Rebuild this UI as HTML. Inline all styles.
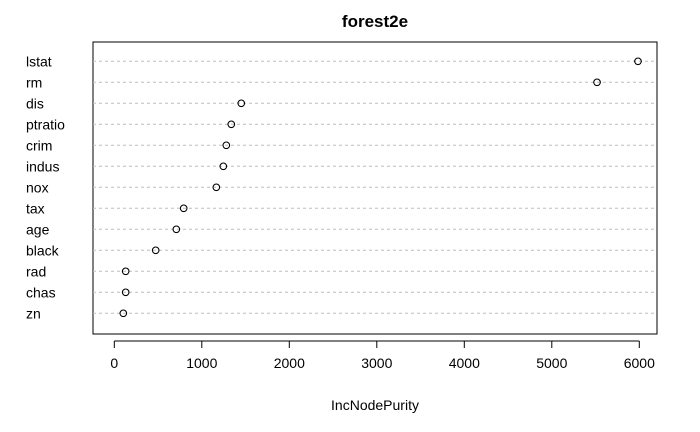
<!DOCTYPE html>
<html><head><meta charset="utf-8"><style>body{margin:0;background:#fff}svg{display:block;font-family:"Liberation Sans",Arial,sans-serif}</style></head>
<body>
<svg id="chart" width="700" height="432" viewBox="0 0 700 432">
<rect width="700" height="432" fill="#fff"/>
<text x="375" y="27" font-size="17" font-weight="bold" text-anchor="middle">forest2e</text>
<rect x="93" y="42" width="564" height="292" fill="none" stroke="#000" stroke-width="1"/>
<g id="rows"></g>
<g id="xaxis"></g>
<text x="375" y="410" font-size="14" text-anchor="middle">IncNodePurity</text>
</svg>
<script>
const categories = ["lstat","rm","dis","ptratio","crim","indus","nox","tax","age","black","rad","chas","zn"];
const values = [5985,5517,1451,1337,1280,1246,1166,793,709,473,130,130,103];
const ticks = [0,1000,2000,3000,4000,5000,6000];
const ns="http://www.w3.org/2000/svg";
const xs=v=>114.3+v*0.0875;
const ys=i=>61.3+i*21;
function mk(t,a,p){const e=document.createElementNS(ns,t);for(const k in a)e.setAttribute(k,a[k]);p.appendChild(e);return e;}
const rows=document.getElementById('rows');
categories.forEach((c,i)=>{
  const l=mk('line',{x1:93,x2:657,y1:ys(i),y2:ys(i),stroke:'#bdbdbd','stroke-dasharray':'3,3'},rows);
  
  
  const t=mk('text',{x:26,y:ys(i)+5,'font-size':14},rows);t.textContent=c;
  
  
  const p=mk('circle',{cx:xs(values[i]),cy:ys(i),r:3.3,fill:'none',stroke:'#000','stroke-width':1.1},rows);
  
  
});
const xa=document.getElementById('xaxis');
const ax=mk('line',{x1:xs(0),x2:xs(6000),y1:341,y2:341,stroke:'#000'},xa);


ticks.forEach(v=>{
  const tk=mk('line',{x1:xs(v),x2:xs(v),y1:341,y2:348,stroke:'#000'},xa);
  
  
  const t=mk('text',{x:xs(v),y:368,'font-size':14,'text-anchor':'middle'},xa);t.textContent=v;
  
  
});
</script>
</body></html>
